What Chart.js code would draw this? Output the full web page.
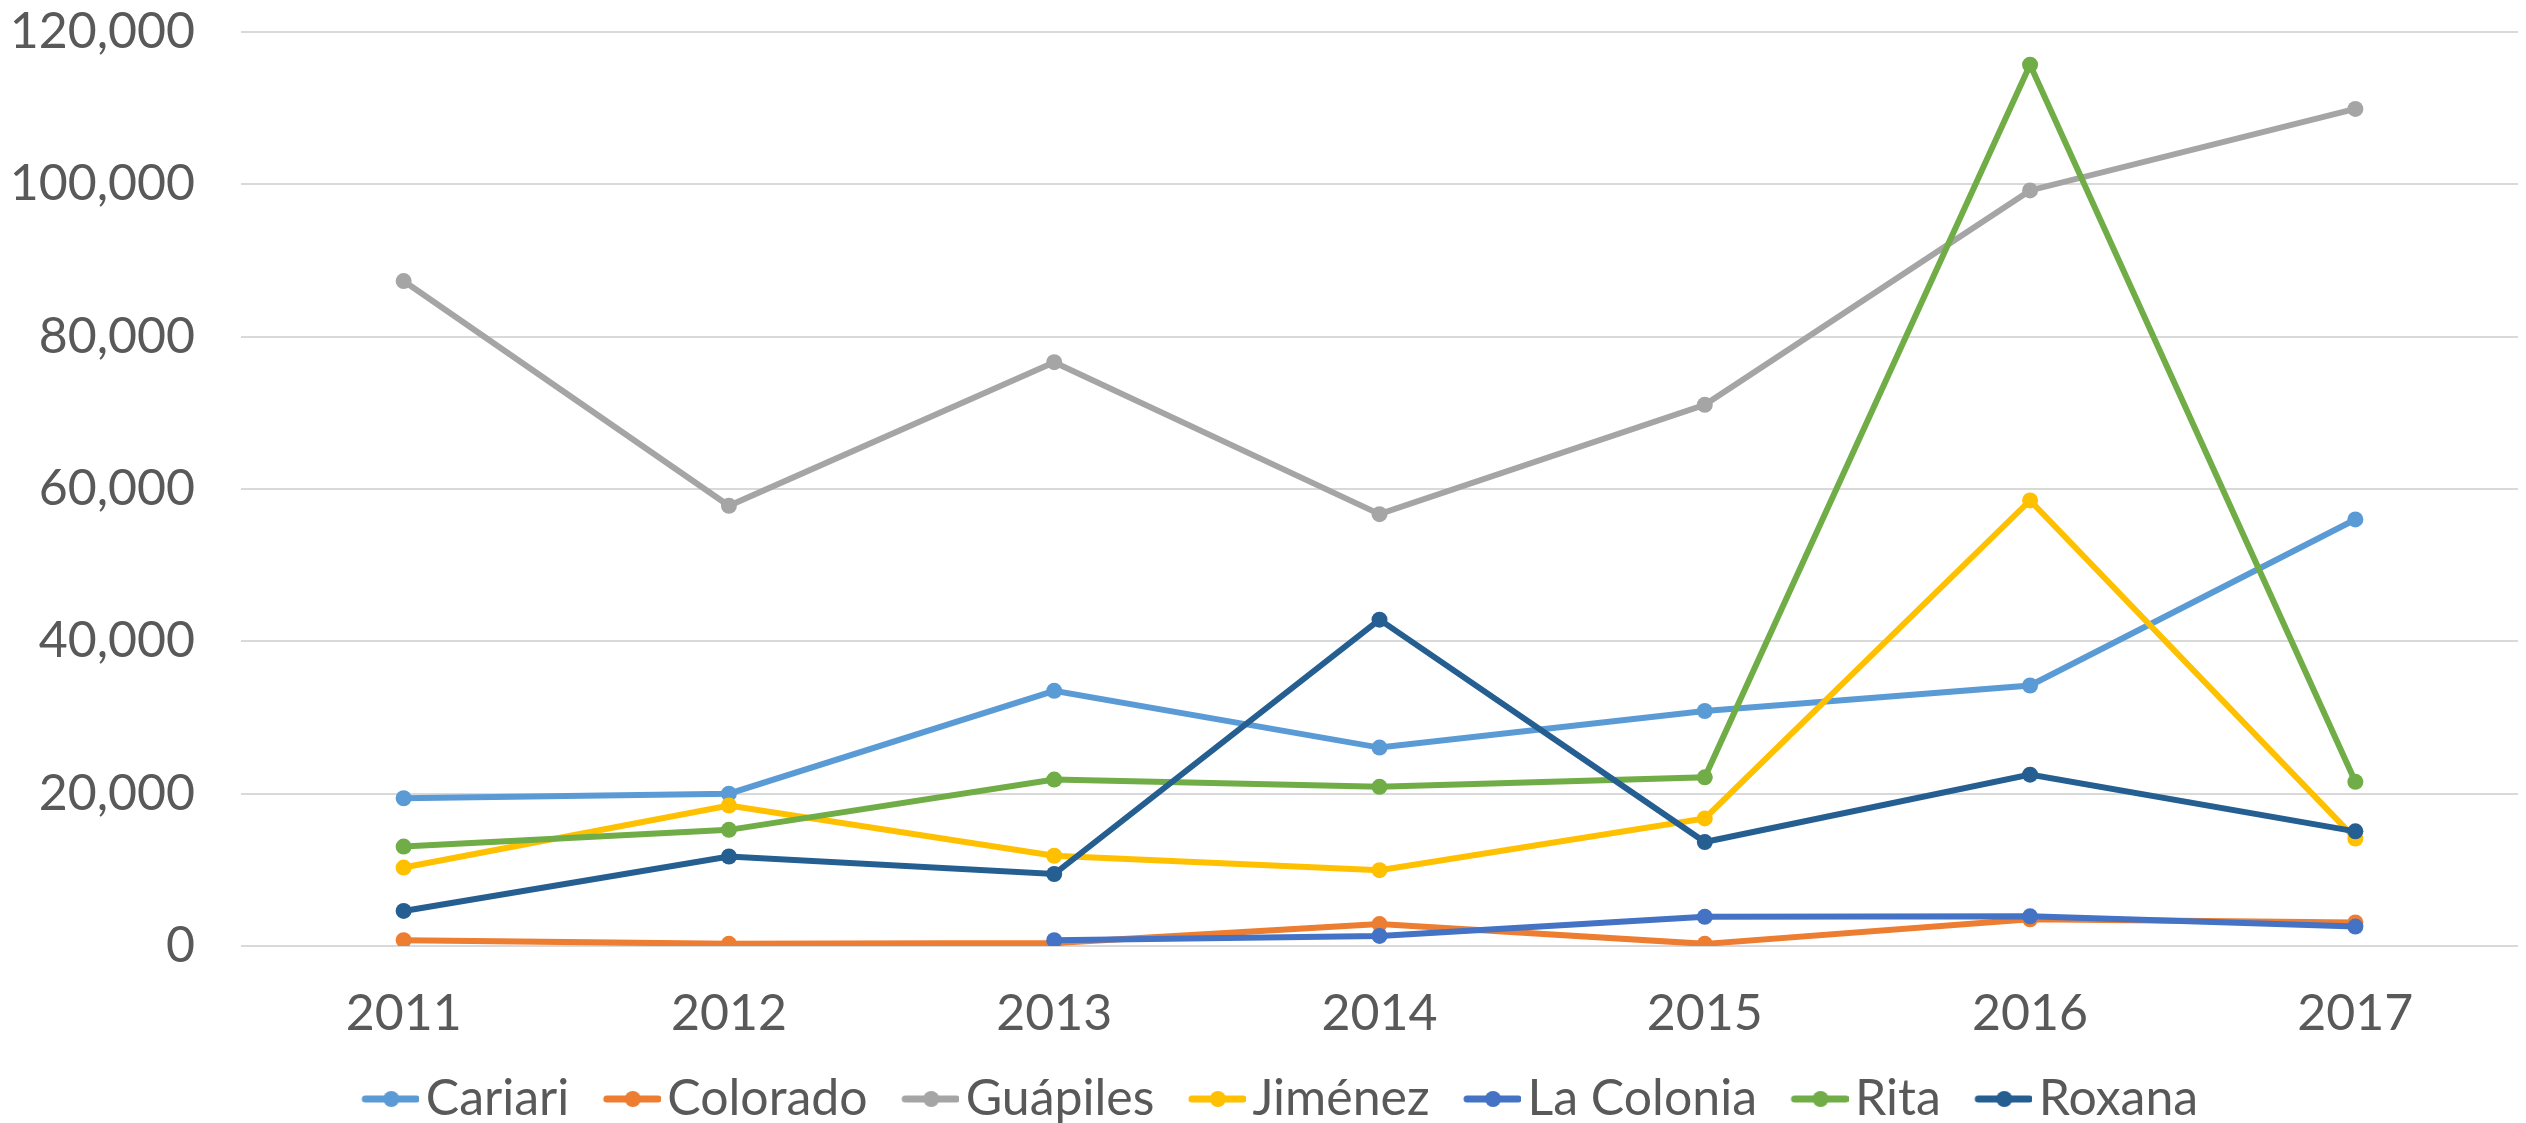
<!DOCTYPE html>
<html lang="es">
<head>
    <meta charset="UTF-8">
    <title>Cantidades por distrito 2011-2017</title>
    <script src="https://cdn.jsdelivr.net/npm/chart.js"></script>
    <style>
        body {
            margin: 0;
            background: #ffffff;
        }
        .chartContainer {
            width: 2526px;
            height: 1123px;
        }
    </style>
</head>
<body>
    <div class="chartContainer">
        <canvas id="lineChart" width="2526" height="1123"></canvas>
    </div>

    <script>
        const years = ['2011', '2012', '2013', '2014', '2015', '2016', '2017'];

        const cariari    = [19400, 20000, 33500, 26050, 30850, 34200, 56000];
        const colorado   = [760, 280, 380, 2880, 280, 3500, 3100];
        const guapiles   = [87300, 57800, 76650, 56700, 71050, 99200, 109900];
        const jimenez    = [10300, 18450, 11850, 9950, 16750, 58500, 14100];
        const laColonia  = [null, null, 760, 1320, 3830, 3900, 2550];
        const rita       = [13050, 15250, 21850, 20900, 22150, 115700, 21550];
        const roxana     = [4600, 11750, 9450, 42850, 13650, 22500, 15050];

        const seriesNames = ['Cariari', 'Colorado', 'Guápiles', 'Jiménez', 'La Colonia', 'Rita', 'Roxana'];
        const seriesValues = [cariari, colorado, guapiles, jimenez, laColonia, rita, roxana];
        const seriesColors = ['#5B9BD5', '#ED7D31', '#A5A5A5', '#FFC000', '#4472C4', '#70AD47', '#255E91'];

        const yTicks = [0, 20000, 40000, 60000, 80000, 100000, 120000];

        const fontFamily = 'Lato, "Open Sans", sans-serif';
        const textColor = '#595959';

        // line-with-dot legend marker; the canvas is wider than the box so the
        // marker sits right against the label text like in excel
        function legendMarker(color) {
            const c = document.createElement('canvas');
            c.width = 110;
            c.height = 18;
            const g = c.getContext('2d');
            g.strokeStyle = color;
            g.lineWidth = 7;
            g.lineCap = 'round';
            g.beginPath();
            g.moveTo(56, 9);
            g.lineTo(107, 9);
            g.stroke();
            g.fillStyle = color;
            g.beginPath();
            g.arc(82, 9, 8, 0, Math.PI * 2);
            g.fill();
            return c;
        }
        const markers = seriesColors.map(legendMarker);

        const datasets = seriesNames.map((name, i) => ({
            label: name,
            data: seriesValues[i],
            borderColor: seriesColors[i],
            backgroundColor: seriesColors[i],
            borderWidth: 6,
            pointRadius: 8,
            pointHoverRadius: 8,
            pointBorderWidth: 0,
            tension: 0,
            spanGaps: false,
            order: seriesNames.length - i
        }));

        const ctx = document.getElementById('lineChart').getContext('2d');
        const chart = new Chart(ctx, {
            type: 'line',
            data: {
                labels: years,
                datasets: datasets
            },
            options: {
                responsive: false,
                devicePixelRatio: 1,
                animation: false,
                layout: {
                    // legend box carries 10px of its own spare room underneath
                    padding: { left: 0, right: 0, top: 0, bottom: -11 }
                },
                scales: {
                    x: {
                        offset: true,
                        grid: { display: false },
                        border: { display: false },
                        ticks: {
                            color: textColor,
                            font: { family: fontFamily, size: 50 },
                            padding: 30,
                            maxRotation: 0
                        }
                    },
                    y: {
                        min: 0,
                        max: 120000,
                        afterBuildTicks: (scale) => {
                            scale.ticks = yTicks.map(v => ({ value: v }));
                        },
                        afterFit: (scale) => {
                            scale.width = 241;
                            // tick padding is only meant horizontally here
                            scale.paddingTop = 32;
                            scale.paddingBottom = 30;
                        },
                        grid: {
                            color: '#D9D9D9',
                            lineWidth: 2,
                            drawTicks: false
                        },
                        border: { display: false },
                        ticks: {
                            color: textColor,
                            font: { family: fontFamily, size: 50 },
                            padding: 46,
                            callback: (v) => Number(v).toLocaleString('en-US')
                        }
                    }
                },
                plugins: {
                    legend: {
                        position: 'bottom',
                        labels: {
                            color: textColor,
                            font: { family: fontFamily, size: 50 },
                            usePointStyle: true,
                            pointStyleWidth: 73,
                            padding: 0,
                            sort: (a, b) => a.datasetIndex - b.datasetIndex,
                            generateLabels: (chart) => {
                                const items = Chart.defaults.plugins.legend.labels.generateLabels(chart);
                                items.forEach(item => {
                                    item.pointStyle = markers[item.datasetIndex];
                                });
                                return items;
                            }
                        }
                    },
                    tooltip: { enabled: false }
                }
            }
        });
    </script>
</body>
</html>
